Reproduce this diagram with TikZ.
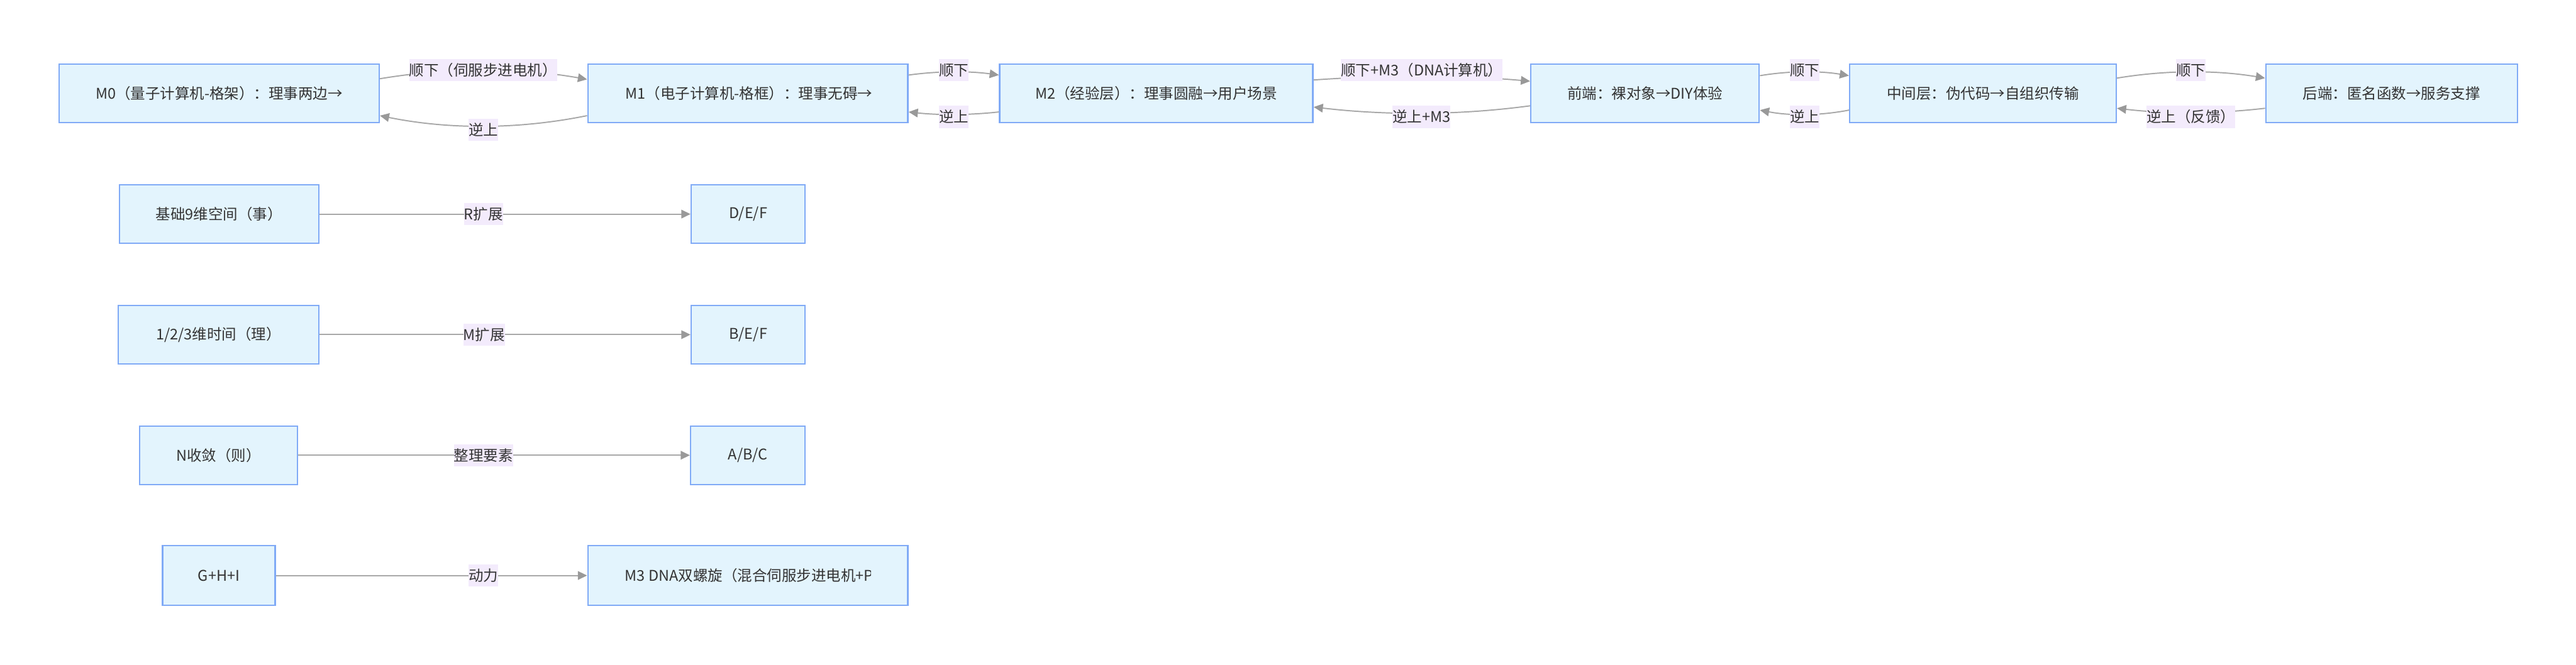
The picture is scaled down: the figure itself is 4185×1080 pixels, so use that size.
\documentclass[tikz,border=0pt]{standalone}
\usepackage{fontspec}
\setmainfont{Noto Sans CJK SC}
\usetikzlibrary{arrows.meta,calc}
\definecolor{nodefill}{HTML}{E3F4FD}
\definecolor{nodeborder}{HTML}{80AAF6}
\definecolor{edgecol}{HTML}{A8A8A8}
\definecolor{tipcol}{HTML}{999999}
\definecolor{lblfill}{HTML}{F3EBFC}
\definecolor{txt}{HTML}{333333}
\begin{document}
\begin{tikzpicture}[x=0.5pt,y=-0.5pt,
  box/.style={draw=nodeborder, fill=nodefill, line width=1.2pt, minimum height=47.5pt, inner sep=0pt, text=txt, font=\fontsize{12}{14}\selectfont},
  txtonly/.style={inner sep=0pt, text=txt, font=\fontsize{12}{14}\selectfont},
  lbl/.style={fill=lblfill, inner xsep=0pt, inner ysep=0pt, minimum height=18pt, text=txt, font=\fontsize{12}{14}\selectfont},
  edge/.style={draw=edgecol, line width=1pt, -{Triangle[length=7.5pt,width=7pt,color=tipcol]}}
]
\useasboundingbox (0,0) rectangle (4185,1080);
\fill[white] (0,0) rectangle (4185,1080);

% top row boxes
\node[box, minimum width=260pt] (m0) at (356,151.5) {};
\begin{scope}
\clip (150,104) rectangle (556.5,199);
\node[txtonly, anchor=west] (m0t) at (155,151.5) {M0（量子计算机-格架）：理事两边→};
\end{scope}
\node[box, minimum width=260pt] (m1) at (1215,151.5) {};
\begin{scope}
\clip (1010,104) rectangle (1416,199);
\node[txtonly, anchor=west] (m1t) at (1016,151.5) {M1（电子计算机-格框）：理事无碍→};
\end{scope}
\node[box, minimum width=254.5pt] (m2) at (1878.5,151.5) {M2（经验层）：理事圆融→用户场景};
\node[box, minimum width=185.5pt] (fe) at (2672.5,151.5) {前端：裸对象→DIY体验};
\node[box, minimum width=216.5pt] (mid) at (3221.5,151.5) {中间层：伪代码→自组织传输};
\node[box, minimum width=204.5pt] (be) at (3885.5,151.5) {后端：匿名函数→服务支撑};

% top row edges
\draw[edge] ($(m0.east)+(0,-23.5)$) .. controls (729,109.3) and (842,109.3) .. ($(m1.west)+(0,-22.5)$);
\node[lbl] (l1) at (785,114) {顺下（伺服步进电机）};
\draw[edge] ($(m1.west)+(0,36.5)$) .. controls (842,210.7) and (729,210.7) .. ($(m0.east)+(0,36.5)$);
\node[lbl] (l2) at (785.5,211) {逆上};

\draw[edge] ($(m1.east)+(0,-29.5)$) .. controls (1524.7,115.3) and (1574.3,115.3) .. ($(m2.west)+(0,-29.5)$);
\node[lbl] (l3) at (1549.5,114) {顺下};
\draw[edge] ($(m2.west)+(0,30.5)$) .. controls (1574.3,187.3) and (1524.7,187.3) .. ($(m1.east)+(0,30.5)$);
\node[lbl] (l4) at (1549.5,190) {逆上};

\draw[edge] ($(m2.east)+(0,-21.5)$) .. controls (2251,121.7) and (2369,121.7) .. ($(fe.west)+(0,-19.5)$);
\node[lbl] (l5) at (2310,114) {顺下+M3（DNA计算机）};
\draw[edge] ($(fe.west)+(0,20.5)$) .. controls (2369,187.7) and (2251,187.7) .. ($(m2.east)+(0,22.5)$);
\node[lbl] (l6) at (2309.5,190) {逆上+M3};

\draw[edge] ($(fe.east)+(0,-28.5)$) .. controls (2907,115) and (2956,115) .. ($(mid.west)+(0,-28.5)$);
\node[lbl] (l7) at (2932,114) {顺下};
\draw[edge] ($(mid.west)+(0,27.5)$) .. controls (2956,188.3) and (2907,188.3) .. ($(fe.east)+(0,27.5)$);
\node[lbl] (l8) at (2932,190) {逆上};

\draw[edge] ($(mid.east)+(0,-24.5)$) .. controls (3519,113.7) and (3600,113.7) .. ($(be.west)+(0,-24.5)$);
\node[lbl] (l9) at (3559.5,114) {顺下};
\draw[edge] ($(be.west)+(0,24.5)$) .. controls (3600,185.3) and (3519,185.3) .. ($(mid.east)+(0,24.5)$);
\node[lbl] (l10) at (3559.5,190) {逆上（反馈）};

% lower rows
\node[box, minimum width=162pt] (s9) at (356,348) {基础9维空间（事）};
\node[box, minimum width=92.5pt] (def) at (1215.5,348) {D/E/F};
\draw[edge] (s9.east) -- (def.west);
\node[lbl] (l11) at (785.5,348) {R扩展};

\node[box, minimum width=163pt] (t3) at (355,544) {1/2/3维时间（理）};
\node[box, minimum width=92.5pt] (bef) at (1215.5,544) {B/E/F};
\draw[edge] (t3.east) -- (bef.west);
\node[lbl] (l12) at (786.5,544) {M扩展};

\node[box, minimum width=128pt] (nc) at (355,740) {N收敛（则）};
\node[box, minimum width=93pt] (abc) at (1215,740) {A/B/C};
\draw[edge] (nc.east) -- (abc.west);
\node[lbl] (l13) at (785.5,740) {整理要素};

\node[box, minimum width=91.5pt, minimum height=48.5pt] (ghi) at (355.5,935.5) {G+H+I};
\node[box, minimum width=260pt, minimum height=48.5pt] (m3) at (1215,935.5) {};
\begin{scope}
\clip (1010,887) rectangle (1415,984);
\node[txtonly, anchor=west] (m3t) at (1015,935.5) {M3 DNA双螺旋（混合伺服步进电机+Pe};
\end{scope}
\draw[edge] (ghi.east) -- (m3.west);
\node[lbl] (l14) at (785.5,935.5) {动力};
\end{tikzpicture}
\end{document}
